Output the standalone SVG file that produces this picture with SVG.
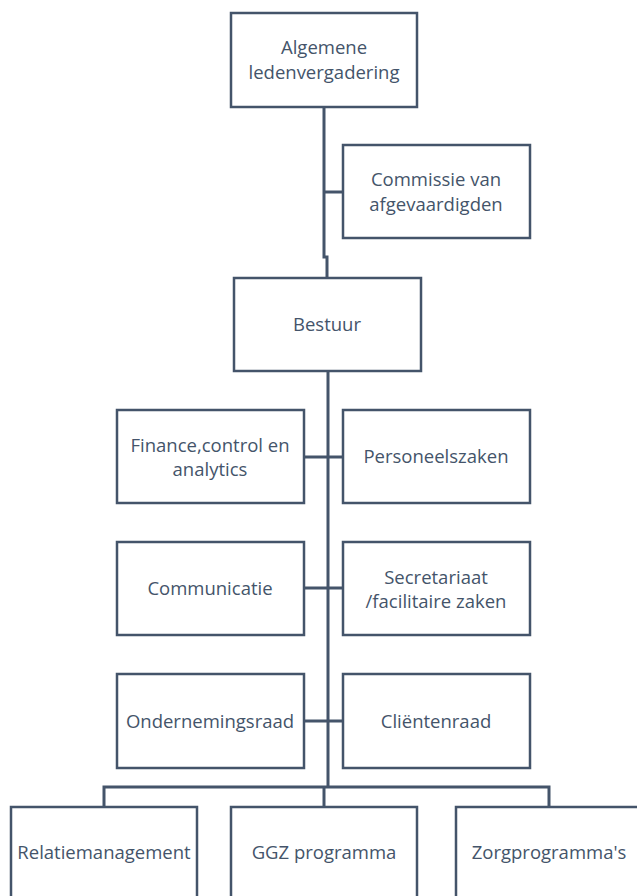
<svg xmlns="http://www.w3.org/2000/svg" width="637" height="896" viewBox="0 0 637 896">
<style>
.box{fill:#fff;stroke:#44546A;stroke-width:2.5}
.ln{fill:none;stroke:#44546A;stroke-width:3}
text{font-family:"Open Sans","Liberation Sans",sans-serif;font-size:18.5px;fill:#44546A;text-anchor:middle}
</style>
<rect width="637" height="896" fill="#fff"/>
<g id="connectors">
<polyline class="ln" points="324,107 324,257 327,257 327,278"/>
<line class="ln" x1="324" y1="192" x2="343" y2="192"/>
<line class="ln" x1="328" y1="371" x2="328" y2="787"/>
<line class="ln" x1="304" y1="457" x2="343" y2="457"/>
<line class="ln" x1="304" y1="588" x2="343" y2="588"/>
<line class="ln" x1="304" y1="721" x2="343" y2="721"/>
<polyline class="ln" points="104,807 104,787 549,787 549,807"/>
<line class="ln" x1="324" y1="787" x2="324" y2="807"/>
</g>
<g id="n1"><rect class="box" x="231" y="13" width="186" height="94"/><text x="324" y="54">Algemene</text><text x="324" y="79">ledenvergadering</text></g>
<g id="n2"><rect class="box" x="343" y="145" width="187" height="93"/><text x="436" y="186">Commissie van</text><text x="436" y="211">afgevaardigden</text></g>
<g id="n3"><rect class="box" x="234" y="278" width="187" height="93"/><text x="327" y="331">Bestuur</text></g>
<g id="n4"><rect class="box" x="117" y="410" width="187" height="93"/><text x="210" y="452">Finance,control en</text><text x="210" y="476">analytics</text></g>
<g id="n5"><rect class="box" x="343" y="410" width="187" height="93"/><text x="436" y="463">Personeelszaken</text></g>
<g id="n6"><rect class="box" x="117" y="542" width="187" height="93"/><text x="210" y="595">Communicatie</text></g>
<g id="n7"><rect class="box" x="343" y="542" width="187" height="93"/><text x="436" y="584">Secretariaat</text><text x="436" y="608">/facilitaire zaken</text></g>
<g id="n8"><rect class="box" x="117" y="674" width="187" height="94"/><text x="210" y="728">Ondernemingsraad</text></g>
<g id="n9"><rect class="box" x="343" y="674" width="187" height="94"/><text x="436" y="728">Cliëntenraad</text></g>
<g id="n10"><rect class="box" x="11" y="807" width="186" height="94"/><text x="104" y="859">Relatiemanagement</text></g>
<g id="n11"><rect class="box" x="231" y="807" width="186" height="94"/><text x="324" y="859">GGZ programma</text></g>
<g id="n12"><rect class="box" x="456" y="807" width="187" height="94"/><text x="549" y="859">Zorgprogramma's</text></g>
</svg>
